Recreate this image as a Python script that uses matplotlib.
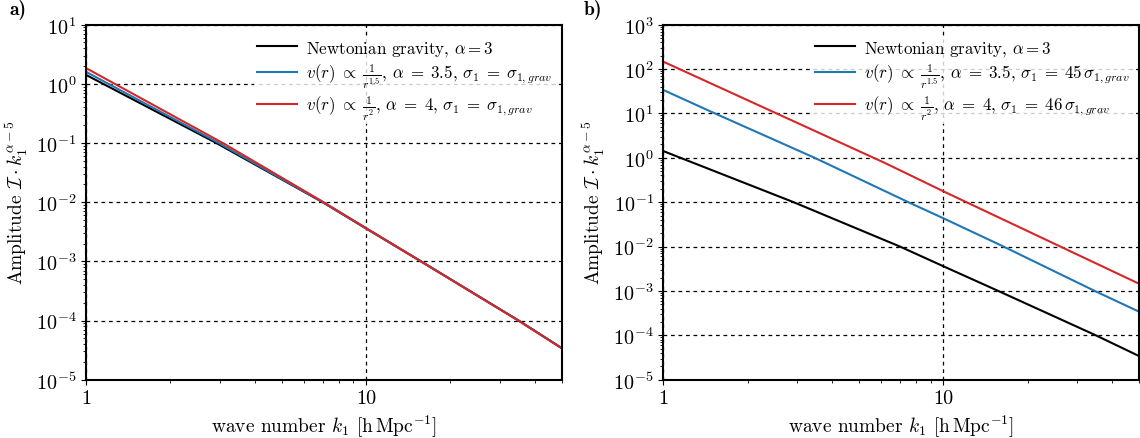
import numpy as np
import matplotlib
matplotlib.use('Agg')
import matplotlib.pyplot as plt
from matplotlib.ticker import NullFormatter, FixedLocator, FixedFormatter, LogLocator

plt.rcParams['font.family'] = 'serif'
plt.rcParams['font.serif'] = ['cmr10']
plt.rcParams['mathtext.fontset'] = 'cm'
plt.rcParams['axes.formatter.use_mathtext'] = True
plt.rcParams['axes.unicode_minus'] = False

# values (k1, amplitude)
k_newton = [1, 2.92, 7.0, 10, 15.7, 35, 50]
amp_newton = [1.42, 0.1, 0.01, 3.6e-3, 1e-3, 1e-4, 3.4e-5]

# panel a: sigma_1 = sigma_1,grav
k_a_15 = [1, 2.98, 7.0, 10, 15.7, 35, 50]
amp_a_15 = [1.6, 0.1, 0.01, 3.6e-3, 1e-3, 1e-4, 3.4e-5]
k_a_2 = [1, 3.08, 7.05, 10, 15.7, 35, 50]
amp_a_2 = [1.85, 0.1, 0.01, 3.65e-3, 1e-3, 1e-4, 3.4e-5]

# panel b: rescaled sigma_1
k_b_15 = [1, 1.53, 3.47, 7.5, 10, 16.4, 34.7, 50]
amp_b_15 = [33.8, 10, 1.0, 0.1, 0.0434, 0.01, 1e-3, 3.4e-4]
k_b_2 = [1, 6.2, 10, 37.8, 50]
amp_b_2 = [147, 0.76, 0.176, 3.34e-3, 1.45e-3]

lab_newton = r'Newtonian gravity, $\alpha=3$'
lab_a = [r'$v(r)\;\propto\;\frac{1}{r^{1.5}}$, $\alpha\;=\;3.5$, $\sigma_1\;=\;\sigma_{1,grav}$',
         r'$v(r)\;\propto\;\frac{1}{r^{2}}$, $\alpha\;=\;4$, $\sigma_1\;=\;\sigma_{1,grav}$']
lab_b = [r'$v(r)\;\propto\;\frac{1}{r^{1.5}}$, $\alpha\;=\;3.5$, $\sigma_1\;=\;45\,\sigma_{1,grav}$',
         r'$v(r)\;\propto\;\frac{1}{r^{2}}$, $\alpha\;=\;4$, $\sigma_1\;=\;46\,\sigma_{1,grav}$']

c_blue = '#1f77b4'
c_red = '#d62728'
lw = 1.5

fig = plt.figure(figsize=(11.4, 4.39), dpi=100)
ax_a = fig.add_axes([0.0754, 0.1328, 0.4175, 0.8087])
ax_b = fig.add_axes([0.5818, 0.1328, 0.4175, 0.8087])


def style(ax, ylo, yhi):
    ax.set_xscale('log')
    ax.set_yscale('log')
    ax.set_xlim(1, 50)
    ax.set_ylim(ylo, yhi)
    ax.xaxis.set_major_locator(FixedLocator([1, 10]))
    ax.xaxis.set_major_formatter(FixedFormatter(['1', '10']))
    ax.xaxis.set_minor_formatter(NullFormatter())
    ax.yaxis.set_major_locator(LogLocator(base=10, numticks=20))
    ax.yaxis.set_minor_locator(LogLocator(base=10, subs=np.arange(2, 10), numticks=20))
    ax.yaxis.set_minor_formatter(NullFormatter())
    ax.grid(True, which='major', color='k', linestyle=(0, (3, 3)), linewidth=0.9)
    ax.tick_params(labelsize=14.5)
    for s in ax.spines.values():
        s.set_linewidth(1.5)
    ax.set_xlabel(r'wave number $k_1$ [h$\,$Mpc$^{-1}$]', fontsize=14)
    ax.set_ylabel(r'Amplitude $\mathcal{I}\cdot k_1^{\alpha-5}$', fontsize=14)


ax_a.plot(k_newton, amp_newton, color='k', lw=lw, label=lab_newton)
ax_a.plot(k_a_15, amp_a_15, color=c_blue, lw=lw, label=lab_a[0])
ax_a.plot(k_a_2, amp_a_2, color=c_red, lw=lw, label=lab_a[1])
style(ax_a, 1e-5, 1e1)

ax_b.plot(k_newton, amp_newton, color='k', lw=lw, label=lab_newton)
ax_b.plot(k_b_15, amp_b_15, color=c_blue, lw=lw, label=lab_b[0])
ax_b.plot(k_b_2, amp_b_2, color=c_red, lw=lw, label=lab_b[1])
style(ax_b, 1e-5, 1e3)

for ax in (ax_a, ax_b):
    leg = ax.legend(loc='upper right', bbox_to_anchor=(0.99, 0.975),
                    fontsize=12.2, frameon=True, fancybox=False,
                    handlelength=2.4, handletextpad=0.5, labelspacing=0.22,
                    borderaxespad=0.15, borderpad=0.15)
    leg.get_frame().set_edgecolor('none')
    leg.get_frame().set_facecolor('white')
    leg.get_frame().set_alpha(0.8)

fig.text(0.008, 0.965, 'a)', fontsize=14, family='cmb10')
fig.text(0.512, 0.965, 'b)', fontsize=14, family='cmb10')

fig.savefig('out.png', dpi=100)
